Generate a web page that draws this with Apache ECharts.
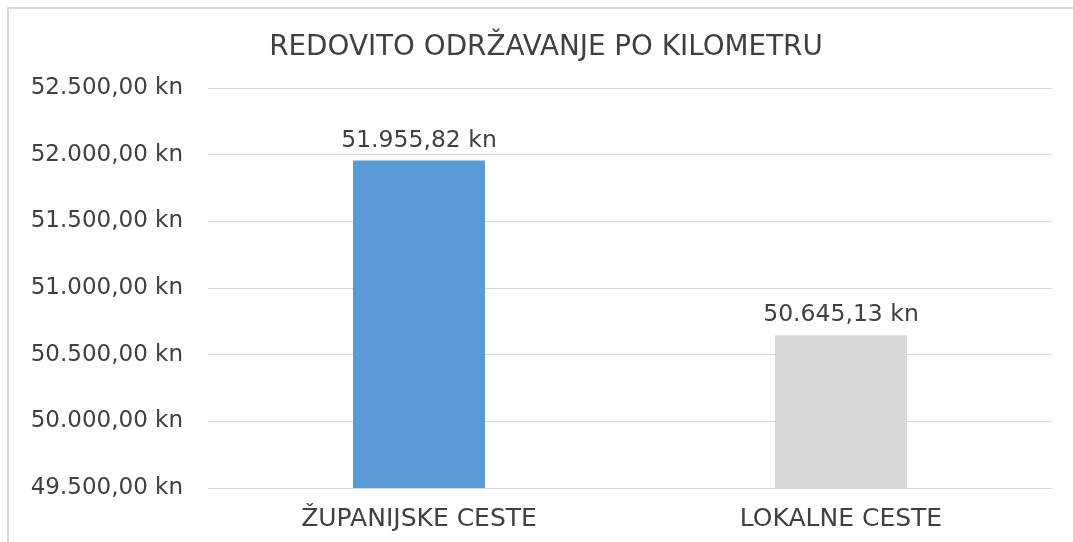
<!DOCTYPE html>
<html>
<head>
<meta charset="utf-8">
<script src="https://cdn.jsdelivr.net/npm/echarts@6/dist/echarts.min.js"></script>
<style>
  html, body { margin: 0; padding: 0; background: #ffffff; }
  #chart { width: 1073px; height: 542px; }
</style>
</head>
<body>
<div id="chart"></div>
<script>
const titleText = 'REDOVITO ODRŽAVANJE PO KILOMETRU';
const categories = ['ŽUPANIJSKE CESTE', 'LOKALNE CESTE'];
const values = [51955.82, 50645.13];
const barColors = ['#5B9BD5', '#D9D9D9'];
const yMin = 49500;
const yMax = 52500;
const yStep = 500;

function fmtKn(v) {
  const fixed = Math.abs(v).toFixed(2);
  const parts = fixed.split('.');
  const intPart = parts[0].replace(/\B(?=(\d{3})+(?!\d))/g, '.');
  return (v < 0 ? '-' : '') + intPart + ',' + parts[1] + ' kn';
}

const FONT = 'DejaVu Sans';
const chart = echarts.init(document.getElementById('chart'), null, { renderer: 'canvas' });
chart.setOption({
  animation: false,
  backgroundColor: '#ffffff',
  title: {
    text: titleText,
    left: 541,
    textAlign: 'center',
    top: 29,
    textStyle: { fontFamily: FONT, fontSize: 27.8, fontWeight: 'normal', color: '#404040' }
  },
  graphic: [{
    type: 'rect',
    shape: { x: 8, y: 8, width: 1200, height: 700 },
    style: { fill: null, stroke: '#D9D9D9', lineWidth: 2 },
    silent: true
  }],
  grid: { left: 208, right: 21, top: 88, bottom: 54, containLabel: false },
  xAxis: {
    type: 'category',
    data: categories,
    axisLine: { show: true, lineStyle: { color: '#D9D9D9', width: 1 } },
    axisTick: { show: false },
    axisLabel: { fontFamily: FONT, fontSize: 25, color: '#404040', margin: 19 }
  },
  yAxis: {
    type: 'value',
    min: yMin,
    max: yMax,
    interval: yStep,
    axisLine: { show: false },
    axisTick: { show: false },
    splitLine: { lineStyle: { color: '#D9D9D9', width: 1 } },
    axisLabel: { fontFamily: FONT, fontSize: 23, color: '#404040', margin: 25, formatter: fmtKn }
  },
  series: [{
    type: 'bar',
    barWidth: 132,
    data: values.map((v, i) => ({ value: v, itemStyle: { color: barColors[i] } })),
    label: {
      show: true,
      position: 'top',
      distance: 8,
      fontFamily: FONT,
      fontSize: 23.5,
      color: '#404040',
      formatter: p => fmtKn(p.value)
    }
  }]
});
</script>
</body>
</html>
